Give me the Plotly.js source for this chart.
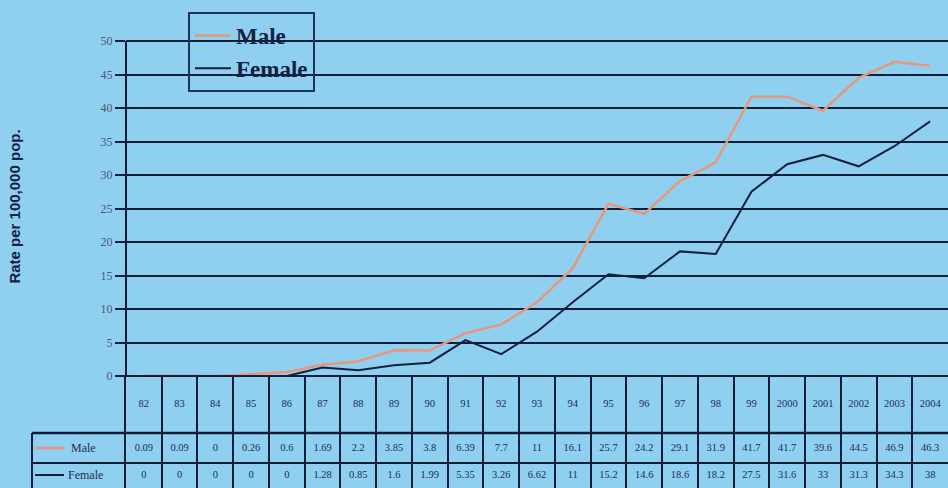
<!DOCTYPE html>
<html><head><meta charset="utf-8">
<script src="https://cdn.plot.ly/plotly-3.0.1.min.js"></script>
<style>html,body{margin:0;padding:0;background:#8fd0f0}#c{width:948px;height:488px}</style>
</head><body><div id="c"></div>
<script>
const years = ['82','83','84','85','86','87','88','89','90','91','92','93','94','95','96','97','98','99','2000','2001','2002','2003','2004'];
const male = [0.09,0.09,0,0.26,0.6,1.69,2.2,3.85,3.8,6.39,7.7,11,16.1,25.7,24.2,29.1,31.9,41.7,41.7,39.6,44.5,46.9,46.3];
const female = [0,0,0,0,0,1.28,0.85,1.6,1.99,5.35,3.26,6.62,11,15.2,14.6,18.6,18.2,27.5,31.6,33,31.3,34.3,38];
const maleLabels = ['0.09','0.09','0','0.26','0.6','1.69','2.2','3.85','3.8','6.39','7.7','11','16.1','25.7','24.2','29.1','31.9','41.7','41.7','39.6','44.5','46.9','46.3'];
const femaleLabels = ['0','0','0','0','0','1.28','0.85','1.6','1.99','5.35','3.26','6.62','11','15.2','14.6','18.6','18.2','27.5','31.6','33','31.3','34.3','38'];

const W=948,H=488;
const bg='#8fd0f0', ink='#13213f', grid='#0f1d3a', maleC='#e8977c';
const px=v=>v/W, py=v=>1-v/H;
// table rows in y2 units (pixels above the bottom edge)
const bMale=55, bFem=25;
const rowHead=(112+bMale)/2, rowMale=(bMale+bFem)/2, rowFem=13;
const tf={family:'Liberation Serif, serif',size:10.5,color:'#1d2c55'};

const traces=[
 {x:years,y:male,name:'Male',type:'scatter',mode:'lines',line:{color:maleC,width:2.5},xaxis:'x',yaxis:'y'},
 {x:years,y:female,name:'Female',type:'scatter',mode:'lines',line:{color:ink,width:2},xaxis:'x',yaxis:'y'},
 {x:years,y:years.map(()=>rowHead),text:years,mode:'text',textfont:tf,xaxis:'x2',yaxis:'y2',showlegend:false,hoverinfo:'skip'},
 {x:years,y:years.map(()=>rowMale),text:maleLabels,mode:'text',textfont:tf,xaxis:'x2',yaxis:'y2',showlegend:false,hoverinfo:'skip'},
 {x:years,y:years.map(()=>rowFem),text:femaleLabels,mode:'text',textfont:tf,xaxis:'x2',yaxis:'y2',showlegend:false,hoverinfo:'skip'}
];

const xd=[px(126),1];
const layout={
 width:W,height:H,margin:{l:0,r:0,t:0,b:0},
 paper_bgcolor:bg,plot_bgcolor:bg,
 showlegend:true,
 legend:{x:px(188),y:py(12),xanchor:'left',yanchor:'top',bgcolor:'rgba(0,0,0,0)',bordercolor:'#1d3358',borderwidth:2,
   font:{family:'Liberation Serif, serif',size:23,color:ink,weight:'bold'},tracegroupgap:0,itemwidth:36},
 xaxis:{type:'category',domain:xd,anchor:'y',showgrid:false,showticklabels:false,ticks:'',zeroline:false,showline:false,fixedrange:true,range:[-0.5,22.5]},
 yaxis:{domain:[py(376),py(37)],anchor:'x',range:[0,50.6],tickvals:[0,5,10,15,20,25,30,35,40,45,50],showgrid:true,gridcolor:grid,gridwidth:2,
   zeroline:true,zerolinecolor:grid,zerolinewidth:2,
   showline:false,ticks:'outside',ticklen:10,tickwidth:2,tickcolor:grid,
   tickfont:{family:'Liberation Serif, serif',size:12,color:'#4a5a78'},automargin:false,
   title:{text:'Rate per 100,000 pop.',font:{family:'Liberation Sans, Arial, sans-serif',size:15,color:ink,weight:'bold'},standoff:76}},
 xaxis2:{type:'category',domain:xd,anchor:'y2',range:[-0.5,22.5],showgrid:true,gridcolor:grid,gridwidth:2,tickson:'boundaries',
   showticklabels:false,ticks:'',zeroline:false,showline:false,fixedrange:true},
 yaxis2:{domain:[0,py(376)],anchor:'x2',range:[0,112],showgrid:false,zeroline:false,showline:true,linecolor:grid,linewidth:2,
   showticklabels:false,ticks:''},
 shapes:[
  {type:'line',xref:'paper',yref:'y',x0:px(126),x1:px(126),y0:0,y1:50,line:{color:grid,width:2}},
  {type:'line',xref:'paper',yref:'y2',x0:px(32),x1:1,y0:bMale,y1:bMale,line:{color:grid,width:2.5}},
  {type:'line',xref:'paper',yref:'y2',x0:px(32),x1:1,y0:bFem,y1:bFem,line:{color:grid,width:2}},
  {type:'line',xref:'paper',yref:'y2',x0:px(32),x1:px(32),y0:0,y1:bMale,line:{color:grid,width:2}},
  {type:'line',xref:'paper',yref:'y2',x0:px(35),x1:px(64),y0:rowMale,y1:rowMale,line:{color:maleC,width:2.5}},
  {type:'line',xref:'paper',yref:'y2',x0:px(35),x1:px(64),y0:rowFem,y1:rowFem,line:{color:ink,width:2}}
 ],
 annotations:[
  {xref:'paper',yref:'y2',x:px(69),y:rowMale,text:'Male',showarrow:false,xanchor:'left',font:{...tf,size:12}},
  {xref:'paper',yref:'y2',x:px(66),y:rowFem,text:'Female',showarrow:false,xanchor:'left',font:{...tf,size:12}}
 ]
};
Plotly.newPlot('c',traces,layout,{displayModeBar:false,staticPlot:true});
</script></body></html>
